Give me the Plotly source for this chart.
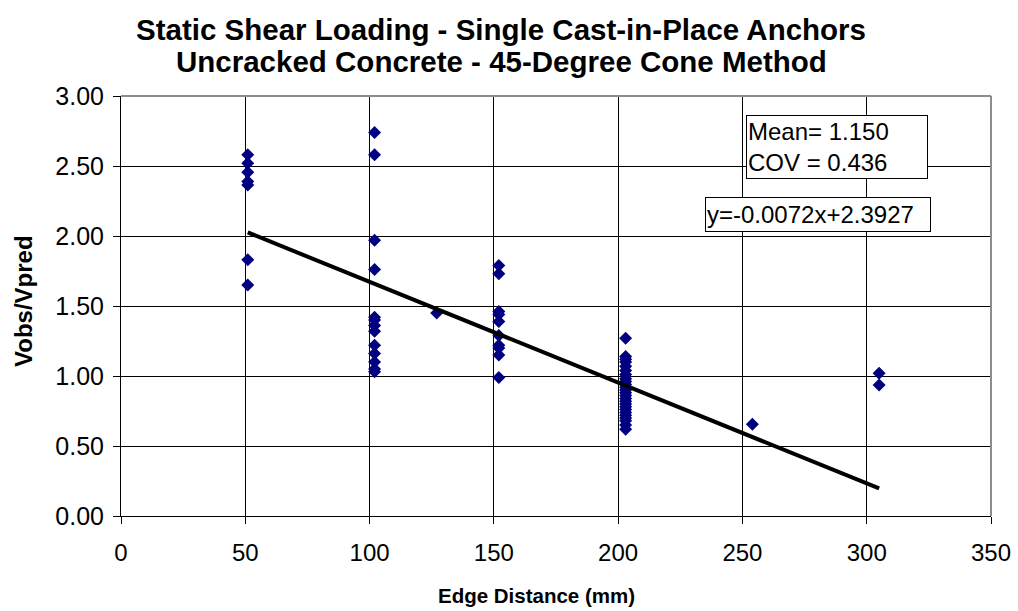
import plotly.graph_objects as go

# ---- data ----
edge_51 = [2.58, 2.52, 2.455, 2.39, 2.365, 1.83, 1.65]
edge_102 = [2.74, 2.58, 1.97, 1.76, 1.42, 1.40, 1.36, 1.32, 1.22, 1.16, 1.10, 1.05, 1.03]
edge_127 = [1.45]
edge_152 = [1.79, 1.73, 1.46, 1.44, 1.39, 1.29, 1.22, 1.20, 1.15, 0.99]
edge_203 = [1.27, 1.14, 1.12, 1.10, 1.07, 1.04, 1.01, 0.98, 0.96, 0.94, 0.92, 0.90,
            0.88, 0.86, 0.84, 0.82, 0.80, 0.78, 0.76, 0.74, 0.72, 0.70, 0.68, 0.65, 0.62]
edge_254 = [0.655]
edge_305 = [1.02, 0.935]

groups = [(51, edge_51), (102, edge_102), (127, edge_127), (152, edge_152),
          (203, edge_203), (254, edge_254), (305, edge_305)]

trend_slope = -0.0072
trend_intercept = 2.3927
trend_x = [51, 305]

x_ticks = [0, 50, 100, 150, 200, 250, 300, 350]
y_ticks = [0.0, 0.5, 1.0, 1.5, 2.0, 2.5, 3.0]

title_lines = ["Static Shear Loading - Single Cast-in-Place Anchors",
               "Uncracked Concrete - 45-Degree Cone Method"]
stats_text = ["Mean= 1.150", "COV = 0.436"]
eq_text = "y=-0.0072x+2.3927"

# ---- build ----
xs, ys = [], []
for xv, vals in groups:
    for v in vals:
        xs.append(xv)
        ys.append(v)

FONT = "Liberation Sans, Arial, sans-serif"

fig = go.Figure()
fig.add_trace(go.Scatter(
    x=xs, y=ys, mode="markers",
    marker=dict(symbol="diamond", size=10, color="#000080", line=dict(width=0)),
    showlegend=False, hoverinfo="x+y"))
fig.add_trace(go.Scatter(
    x=trend_x, y=[trend_slope * v + trend_intercept for v in trend_x],
    mode="lines", line=dict(color="black", width=4), showlegend=False))

L, R, T, B = 121, 991, 96, 516
W, H = 1018, 611

fig.update_layout(
    width=W, height=H,
    margin=dict(l=L, r=W - R, t=T, b=H - B, pad=0, autoexpand=False),
    paper_bgcolor="white", plot_bgcolor="white",
    font=dict(family=FONT, color="black"),
    xaxis=dict(range=[0, 350], tickvals=x_ticks, ticktext=[str(v) for v in x_ticks],
               showgrid=True, gridcolor="black", gridwidth=1,
               showline=True, linecolor="black", linewidth=1,
               ticks="outside", ticklen=7, tickcolor="black",
               tickfont=dict(size=24, family=FONT), ticklabelstandoff=8,
               zeroline=False, automargin=False),
    yaxis=dict(range=[0, 3], tickvals=y_ticks, ticktext=[f"{v:.2f}" for v in y_ticks],
               showgrid=True, gridcolor="black", gridwidth=1,
               showline=True, linecolor="black", linewidth=1,
               ticks="outside", ticklen=7, tickcolor="black",
               tickfont=dict(size=25, family=FONT), ticklabelstandoff=4,
               zeroline=False, automargin=False),
)

# grey top and right borders
fig.add_shape(type="line", xref="paper", yref="paper", x0=0, x1=1, y0=1, y1=1,
              line=dict(color="#8c8c8c", width=2))
fig.add_shape(type="line", xref="paper", yref="paper", x0=1, x1=1, y0=0, y1=1,
              line=dict(color="#8c8c8c", width=2))

pw, ph = R - L, B - T
def px(xp):
    return (xp - L) / pw
def py(yp):
    return (B - yp) / ph

for line_text, yc in zip(title_lines, [30, 61]):
    fig.add_annotation(text="<b>" + line_text + "</b>",
                       xref="paper", yref="paper", x=px(501), y=py(yc),
                       xanchor="center", yanchor="middle", showarrow=False,
                       font=dict(size=29.5, family=FONT))
fig.add_annotation(text="<b>Edge Distance (mm)</b>",
                   xref="paper", yref="paper", x=px(536), y=py(595),
                   xanchor="center", yanchor="middle", showarrow=False,
                   font=dict(size=20.5, family=FONT))
fig.add_annotation(text="<b>Vobs/Vpred</b>", textangle=-90,
                   xref="paper", yref="paper", x=px(23), y=py(301),
                   xanchor="center", yanchor="middle", showarrow=False,
                   font=dict(size=24, family=FONT))

fig.add_annotation(text="<br>".join(stats_text),
                   xref="paper", yref="paper", x=px(746), y=py(115),
                   xanchor="left", yanchor="top", showarrow=False, align="left",
                   width=178, height=60, borderpad=1, bgcolor="white",
                   bordercolor="black", borderwidth=1,
                   font=dict(size=24, family=FONT))
fig.add_annotation(text=eq_text,
                   xref="paper", yref="paper", x=px(705), y=py(197),
                   xanchor="left", yanchor="top", showarrow=False, align="left",
                   width=222, height=31, borderpad=1, bgcolor="white",
                   bordercolor="black", borderwidth=1,
                   font=dict(size=24, family=FONT))

fig.write_html("out.html", config={"displayModeBar": False},
               post_script="document.body.style.margin='0';")
